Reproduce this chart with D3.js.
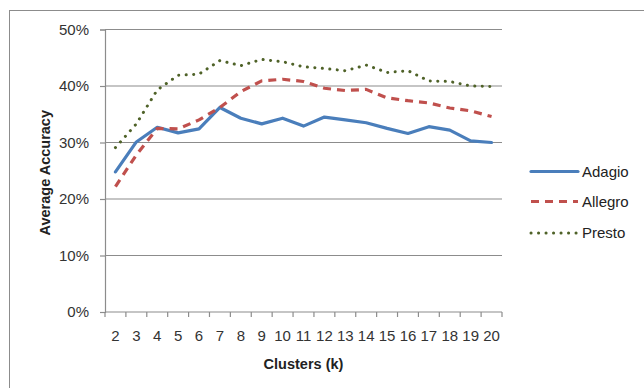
<!DOCTYPE html>
<html>
<head>
<meta charset="utf-8">
<script src="https://cdn.jsdelivr.net/npm/d3@7"></script>
<style>
  html, body { margin: 0; padding: 0; background: #fff; }
  svg { display: block; }
  text { font-family: "Liberation Sans", Arial, sans-serif; }
</style>
</head>
<body>
<svg id="chart" width="644" height="388"></svg>
<script>
// Cluster counts along the x axis
const clusters = [2, 3, 4, 5, 6, 7, 8, 9, 10, 11, 12, 13, 14, 15, 16, 17, 18, 19, 20];

// Average accuracy per cluster count for each tempo
const adagio  = [0.248, 0.301, 0.327, 0.317, 0.324, 0.362, 0.343, 0.333, 0.343, 0.329, 0.345, 0.340, 0.335, 0.325, 0.316, 0.328, 0.322, 0.303, 0.300];
const allegro = [0.222, 0.278, 0.325, 0.324, 0.340, 0.362, 0.390, 0.409, 0.412, 0.408, 0.396, 0.392, 0.394, 0.379, 0.374, 0.370, 0.361, 0.356, 0.346];
const presto  = [0.291, 0.333, 0.393, 0.419, 0.421, 0.445, 0.436, 0.447, 0.443, 0.434, 0.431, 0.427, 0.437, 0.424, 0.427, 0.409, 0.408, 0.400, 0.399];

const yTicks = [0, 0.1, 0.2, 0.3, 0.4, 0.5];

const seriesNames = ["Adagio", "Allegro", "Presto"];

const svg = d3.select("#chart");

// Outer chart frame
svg.append("rect")
  .attr("x", 9.5).attr("y", 10.5)
  .attr("width", 660).attr("height", 400)
  .attr("fill", "none").attr("stroke", "#8c8c8c").attr("stroke-width", 1);

const plot = { left: 105, right: 502, top: 29.5, bottom: 312 };

const x = d3.scaleBand().domain(clusters).range([plot.left, plot.right]);
const y = d3.scaleLinear().domain([0, 0.5]).range([plot.bottom, plot.top]);

// Horizontal gridlines
svg.append("g")
  .selectAll("line")
  .data(yTicks.filter(t => t > 0))
  .join("line")
  .attr("x1", plot.left).attr("x2", plot.right)
  .attr("y1", d => y(d)).attr("y2", d => y(d))
  .attr("stroke", "#8c8c8c").attr("stroke-width", 1.2);

// Y axis
const yAxis = svg.append("g")
  .attr("transform", `translate(${plot.left},0)`)
  .call(d3.axisLeft(y).tickValues(yTicks).tickFormat(d3.format(".0%")).tickSize(5).tickPadding(11));
yAxis.select(".domain").attr("stroke", "#8c8c8c").attr("stroke-width", 1.2);
yAxis.selectAll(".tick line").attr("stroke", "#8c8c8c").attr("stroke-width", 1.2);
yAxis.selectAll(".tick text")
  .attr("fill", "#333").attr("font-size", 15);

// X axis with ticks between categories
const xAxisG = svg.append("g").attr("transform", `translate(0,${plot.bottom})`);
xAxisG.append("line")
  .attr("x1", plot.left).attr("x2", plot.right)
  .attr("stroke", "#8c8c8c").attr("stroke-width", 1.2);
const bounds = clusters.map(c => x(c)).concat([x(clusters[clusters.length - 1]) + x.bandwidth()]);
xAxisG.selectAll("line.tk")
  .data(bounds)
  .join("line").attr("class", "tk")
  .attr("x1", d => d).attr("x2", d => d)
  .attr("y1", 0).attr("y2", 5)
  .attr("stroke", "#8c8c8c").attr("stroke-width", 1.2);
xAxisG.selectAll("text")
  .data(clusters)
  .join("text")
  .attr("x", d => x(d) + x.bandwidth() / 2)
  .attr("y", 28.5)
  .attr("text-anchor", "middle")
  .attr("fill", "#333").attr("font-size", 15)
  .text(d => d);

// Axis titles
svg.append("text")
  .attr("x", (plot.left + plot.right) / 2)
  .attr("y", 369)
  .attr("text-anchor", "middle")
  .attr("font-size", 14.5).attr("font-weight", "bold").attr("fill", "#222")
  .text("Clusters (k)");

svg.append("text")
  .attr("transform", `translate(50,${(plot.top + plot.bottom) / 2 + 2}) rotate(-90)`)
  .attr("text-anchor", "middle")
  .attr("font-size", 14.5).attr("font-weight", "bold").attr("fill", "#222")
  .text("Average Accuracy");

// Series styling
const styles = [
  { color: "#4a7ebb", width: 3.2, dash: null, cap: "round" },
  { color: "#c0504d", width: 3.2, dash: "8,6", cap: "butt" },
  { color: "#4f6228", width: 3, dash: "0.1,7.4", cap: "round" }
];
const seriesData = [adagio, allegro, presto];

const line = d3.line()
  .x((d, i) => x(clusters[i]) + x.bandwidth() / 2)
  .y(d => y(d));

seriesData.forEach((vals, i) => {
  const s = styles[i];
  svg.append("path")
    .datum(vals)
    .attr("d", line)
    .attr("fill", "none")
    .attr("stroke", s.color)
    .attr("stroke-width", s.width)
    .attr("stroke-linejoin", "round")
    .attr("stroke-linecap", s.cap)
    .attr("stroke-dasharray", s.dash);
});

// Legend
const legendY = [171.5, 201.5, 233];
const legend = svg.append("g");
seriesNames.forEach((name, i) => {
  const s = styles[i];
  legend.append("line")
    .attr("x1", 531).attr("x2", 578)
    .attr("y1", legendY[i]).attr("y2", legendY[i])
    .attr("stroke", s.color)
    .attr("stroke-width", s.width)
    .attr("stroke-linecap", s.cap)
    .attr("stroke-dasharray", s.dash);
  legend.append("text")
    .attr("x", 582).attr("y", legendY[i] + 5)
    .attr("font-size", 15).attr("fill", "#222")
    .text(name);
});
</script>
</body>
</html>
